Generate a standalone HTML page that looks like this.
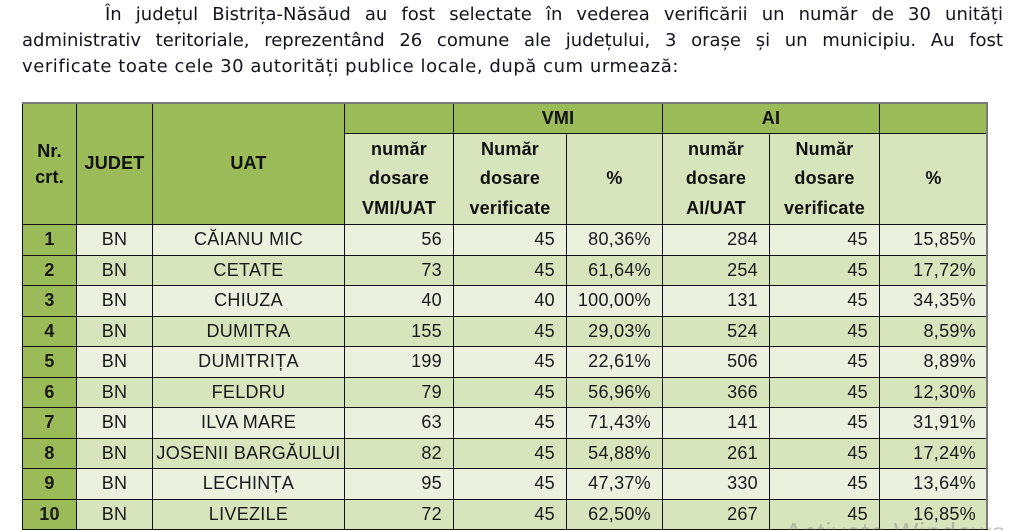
<!DOCTYPE html>
<html><head><meta charset="utf-8">
<style>
html{margin:0;padding:0;width:1024px;height:530px;overflow:hidden;background:#fff;}
body{margin:0;padding:0;width:1024px;height:530px;overflow:hidden;background:#fff;position:relative;font-family:"Liberation Sans",sans-serif;}
.p{position:absolute;font-family:"DejaVu Sans","Liberation Sans",sans-serif;font-size:18px;line-height:26.3px;color:#14141e;white-space:nowrap;}
.j{text-align:justify;text-align-last:justify;}
.row{position:absolute;left:0;width:1024px;height:30.5px;}
.cell{position:absolute;top:0;bottom:0;box-sizing:border-box;border-left:1px solid #111;border-top:1px solid #111;display:flex;align-items:center;justify-content:center;font-size:18px;color:#1a1a1a;letter-spacing:0.3px;white-space:nowrap;}
.h{position:absolute;box-sizing:border-box;border-left:1px solid #111;border-top:1px solid #111;display:flex;align-items:center;justify-content:center;font-size:18px;font-weight:bold;color:#111;text-align:center;line-height:29.5px;letter-spacing:0.2px;}
.dk{background:#9BBB59;}
.lt{background:#D8E4BC;}
.od{background:#EBF1DE;}
.ev{background:#D8E4BC;}
.r{justify-content:flex-end;padding-right:11px;}
.b{font-weight:bold;}
.c0{left:22px;width:54px;}
.c1{left:76px;width:76px;}
.c2{left:152px;width:192px;}
.c3{left:344px;width:109px;}
.c4{left:453px;width:113px;}
.c5{left:566px;width:96px;}
.c6{left:662px;width:107px;}
.c7{left:769px;width:110px;}
.c8{left:879px;width:108px;}
</style></head><body>

<div class="p j" style="left:105px;top:1.5px;width:898px;">În județul Bistrița-Năsăud au fost selectate în vederea verificării un număr de 30 unități</div>
<div class="p j" style="left:22px;top:27.8px;width:981px;">administrativ teritoriale, reprezentând 26 comune ale județului, 3 orașe și un municipiu. Au fost</div>
<div class="p" style="left:22px;top:54.1px;letter-spacing:0.55px;">verificate toate cele 30 autorități publice locale, după cum urmează:</div>

<!-- header -->
<div class="h dk c0" style="top:103px;height:121px;line-height:26px;">Nr.<br>crt.</div>
<div class="h dk c1" style="top:103px;height:121px;">JUDET</div>
<div class="h dk c2" style="top:103px;height:121px;">UAT</div>
<div class="h dk c3" style="top:103px;height:30px;"></div>
<div class="h dk" style="left:453px;width:209px;top:103px;height:30px;">VMI</div>
<div class="h dk" style="left:662px;width:217px;top:103px;height:30px;">AI</div>
<div class="h dk c8" style="top:103px;height:30px;"></div>
<div class="h lt c3" style="top:133px;height:91px;">număr<br>dosare<br>VMI/UAT</div>
<div class="h lt c4" style="top:133px;height:91px;">Număr<br>dosare<br>verificate</div>
<div class="h lt c5" style="top:133px;height:91px;">%</div>
<div class="h lt c6" style="top:133px;height:91px;">număr<br>dosare<br>AI/UAT</div>
<div class="h lt c7" style="top:133px;height:91px;">Număr<br>dosare<br>verificate</div>
<div class="h lt c8" style="top:133px;height:91px;">%</div>

<!-- rows -->
<div class="row" style="top:224px;">
<div class="cell dk c0 b">1</div><div class="cell od c1">BN</div><div class="cell od c2">CĂIANU MIC</div><div class="cell od c3 r">56</div><div class="cell od c4 r">45</div><div class="cell od c5 r">80,36%</div><div class="cell od c6 r">284</div><div class="cell od c7 r">45</div><div class="cell od c8 r">15,85%</div></div>
<div class="row" style="top:254.5px;">
<div class="cell dk c0 b">2</div><div class="cell ev c1">BN</div><div class="cell ev c2">CETATE</div><div class="cell ev c3 r">73</div><div class="cell ev c4 r">45</div><div class="cell ev c5 r">61,64%</div><div class="cell ev c6 r">254</div><div class="cell ev c7 r">45</div><div class="cell ev c8 r">17,72%</div></div>
<div class="row" style="top:285px;">
<div class="cell dk c0 b">3</div><div class="cell od c1">BN</div><div class="cell od c2">CHIUZA</div><div class="cell od c3 r">40</div><div class="cell od c4 r">40</div><div class="cell od c5 r">100,00%</div><div class="cell od c6 r">131</div><div class="cell od c7 r">45</div><div class="cell od c8 r">34,35%</div></div>
<div class="row" style="top:315.5px;">
<div class="cell dk c0 b">4</div><div class="cell ev c1">BN</div><div class="cell ev c2">DUMITRA</div><div class="cell ev c3 r">155</div><div class="cell ev c4 r">45</div><div class="cell ev c5 r">29,03%</div><div class="cell ev c6 r">524</div><div class="cell ev c7 r">45</div><div class="cell ev c8 r">8,59%</div></div>
<div class="row" style="top:346px;">
<div class="cell dk c0 b">5</div><div class="cell od c1">BN</div><div class="cell od c2">DUMITRIȚA</div><div class="cell od c3 r">199</div><div class="cell od c4 r">45</div><div class="cell od c5 r">22,61%</div><div class="cell od c6 r">506</div><div class="cell od c7 r">45</div><div class="cell od c8 r">8,89%</div></div>
<div class="row" style="top:376.5px;">
<div class="cell dk c0 b">6</div><div class="cell ev c1">BN</div><div class="cell ev c2">FELDRU</div><div class="cell ev c3 r">79</div><div class="cell ev c4 r">45</div><div class="cell ev c5 r">56,96%</div><div class="cell ev c6 r">366</div><div class="cell ev c7 r">45</div><div class="cell ev c8 r">12,30%</div></div>
<div class="row" style="top:407px;">
<div class="cell dk c0 b">7</div><div class="cell od c1">BN</div><div class="cell od c2">ILVA MARE</div><div class="cell od c3 r">63</div><div class="cell od c4 r">45</div><div class="cell od c5 r">71,43%</div><div class="cell od c6 r">141</div><div class="cell od c7 r">45</div><div class="cell od c8 r">31,91%</div></div>
<div class="row" style="top:437.5px;">
<div class="cell dk c0 b">8</div><div class="cell ev c1">BN</div><div class="cell ev c2">JOSENII BARGĂULUI</div><div class="cell ev c3 r">82</div><div class="cell ev c4 r">45</div><div class="cell ev c5 r">54,88%</div><div class="cell ev c6 r">261</div><div class="cell ev c7 r">45</div><div class="cell ev c8 r">17,24%</div></div>
<div class="row" style="top:468px;">
<div class="cell dk c0 b">9</div><div class="cell od c1">BN</div><div class="cell od c2">LECHINȚA</div><div class="cell od c3 r">95</div><div class="cell od c4 r">45</div><div class="cell od c5 r">47,37%</div><div class="cell od c6 r">330</div><div class="cell od c7 r">45</div><div class="cell od c8 r">13,64%</div></div>
<div class="row" style="top:498.5px;">
<div class="cell dk c0 b">10</div><div class="cell ev c1">BN</div><div class="cell ev c2">LIVEZILE</div><div class="cell ev c3 r">72</div><div class="cell ev c4 r">45</div><div class="cell ev c5 r">62,50%</div><div class="cell ev c6 r">267</div><div class="cell ev c7 r">45</div><div class="cell ev c8 r">16,85%</div></div>

<!-- outer borders -->
<div style="position:absolute;left:22px;top:102px;width:966px;height:2px;background:#7a7a7a;"></div>
<div style="position:absolute;left:986px;top:102px;width:2px;height:428px;background:#7a7a7a;"></div>
<div style="position:absolute;left:22px;top:528.5px;width:966px;height:1.5px;background:#111;"></div>

<!-- watermark -->
<div style="position:absolute;left:785px;top:519px;font-size:26px;line-height:26px;letter-spacing:1px;color:rgba(120,120,120,0.4);white-space:nowrap;">Activate Windows</div>

</body></html>
